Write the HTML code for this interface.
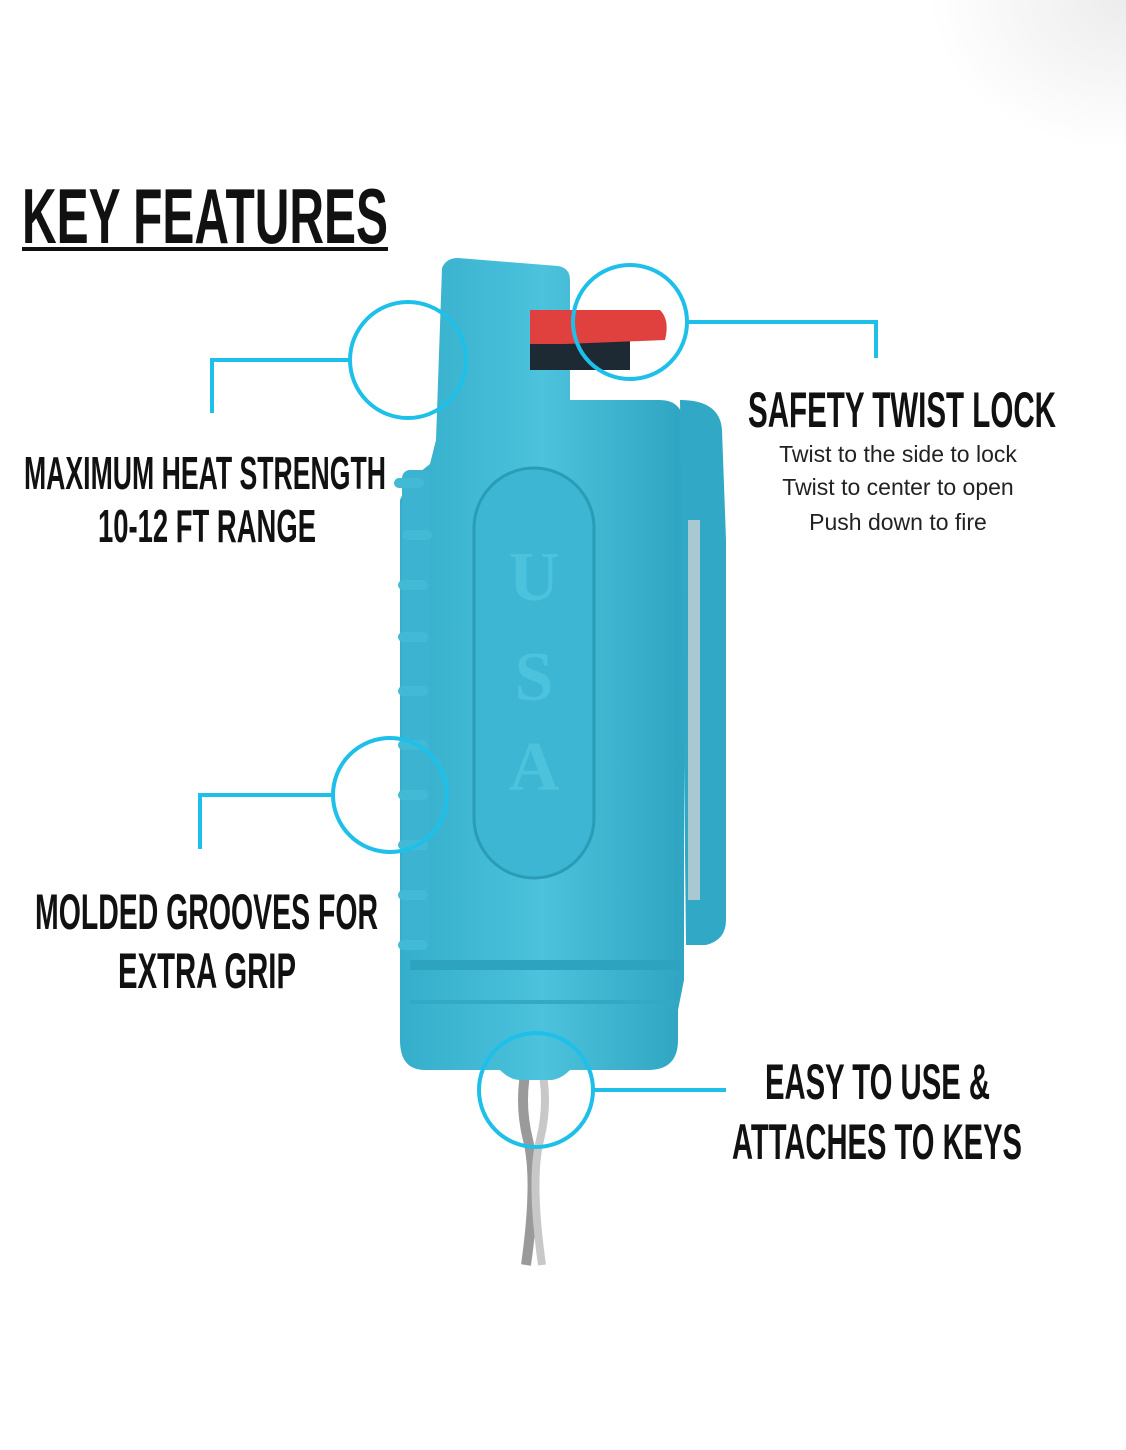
<!DOCTYPE html>
<html><head><meta charset="utf-8"><style>
html,body{margin:0;padding:0;background:#fff;width:1126px;height:1450px;overflow:hidden}
svg{display:block}
.h{font-family:"Liberation Sans Narrow","Liberation Sans",sans-serif;font-weight:bold;fill:#111}
.s{font-family:"Liberation Sans",sans-serif;font-size:23px;fill:#222}
</style></head><body>
<svg width="1126" height="1450" viewBox="0 0 1126 1450" xmlns="http://www.w3.org/2000/svg">
<defs>
<linearGradient id="bg" x1="0" y1="0" x2="1" y2="0">
<stop offset="0" stop-color="#34aecb"/><stop offset="0.5" stop-color="#4cc2dc"/><stop offset="1" stop-color="#2fa5c2"/>
</linearGradient>
<radialGradient id="corner" cx="1" cy="0" r="0.6"><stop offset="0" stop-color="#ececec"/><stop offset="1" stop-color="#fff"/></radialGradient>
</defs>
<rect width="1126" height="1450" fill="#fff"/>
<rect x="800" y="0" width="326" height="250" fill="url(#corner)"/>

<text class="h" x="22" y="243" font-size="78" textLength="366" lengthAdjust="spacingAndGlyphs">KEY FEATURES</text>
<rect x="22" y="247" width="366" height="4" fill="#111"/>

<path d="M528 1060 q-10 40 0 80 q10 40 -2 125" stroke="#9a9a9a" stroke-width="10" fill="none"/>
<path d="M540 1060 q10 40 0 80 q-10 40 2 125" stroke="#c8c8c8" stroke-width="8" fill="none"/>

<path d="M442,268 Q446,258 458,258 L558,266 Q570,268 570,280 L570,400 L660,400 Q680,400 684,420 L684,980 L678,1010 L678,1040 Q678,1070 648,1070 L570,1070 Q560,1080 550,1080 L520,1080 Q510,1080 500,1070 L425,1070 Q400,1070 400,1040 L400,500 L408,482 L420,472 L430,464 L436,440 Z" fill="url(#bg)"/>
<rect x="402" y="470" width="28" height="480" rx="8" fill="#3cb4d1"/>
<path d="M680 400 q40 0 42 30 l4 110 l0 380 q0 20 -20 25 l-20 0 z" fill="#31a9c6"/>
<rect x="688" y="520" width="12" height="380" fill="#a8c9d2"/>
<rect x="474" y="468" width="120" height="410" rx="60" fill="#3db6d3" stroke="#2a9cb8" stroke-width="3"/>
<text x="534" y="600" font-family="Liberation Serif,serif" font-size="70" font-weight="bold" fill="#4cc2dd" text-anchor="middle">U</text>
<text x="534" y="700" font-family="Liberation Serif,serif" font-size="70" font-weight="bold" fill="#4cc2dd" text-anchor="middle">S</text>
<text x="534" y="790" font-family="Liberation Serif,serif" font-size="70" font-weight="bold" fill="#4cc2dd" text-anchor="middle">A</text>
<g fill="#42bad6">
<rect x="394" y="478" width="30" height="10" rx="5"/><rect x="402" y="530" width="30" height="10" rx="5"/>
<rect x="398" y="580" width="30" height="10" rx="5"/><rect x="398" y="632" width="30" height="10" rx="5"/>
<rect x="398" y="686" width="30" height="10" rx="5"/><rect x="398" y="740" width="30" height="10" rx="5"/>
<rect x="398" y="790" width="30" height="10" rx="5"/><rect x="398" y="840" width="30" height="10" rx="5"/>
<rect x="398" y="890" width="30" height="10" rx="5"/><rect x="398" y="940" width="30" height="10" rx="5"/>
</g>
<rect x="410" y="960" width="270" height="10" fill="#2ea3bf"/>
<rect x="410" y="1000" width="268" height="4" fill="#33a9c5"/>
<rect x="530" y="330" width="100" height="40" fill="#1d2a33"/>
<path d="M530 310 l130 0 q10 10 5 30 l-100 4 l-35 0 z" fill="#e0403e"/>

<g stroke="#1ec0ea" stroke-width="4" fill="none">
<circle cx="408" cy="360" r="58"/>
<polyline points="350,360 212,360 212,413"/>
<circle cx="630" cy="322" r="57"/>
<polyline points="688,322 876,322 876,358"/>
<circle cx="390" cy="795" r="57"/>
<polyline points="333,795 200,795 200,849"/>
<circle cx="536" cy="1090" r="57"/>
<polyline points="593,1090 726,1090"/>
</g>

<text class="h" x="24" y="489" font-size="46" textLength="362" lengthAdjust="spacingAndGlyphs">MAXIMUM HEAT STRENGTH</text>
<text class="h" x="98" y="542" font-size="46" textLength="218" lengthAdjust="spacingAndGlyphs">10-12 FT RANGE</text>
<text class="h" x="748" y="427" font-size="50" textLength="308" lengthAdjust="spacingAndGlyphs">SAFETY TWIST LOCK</text>
<text class="s" x="898" y="462" text-anchor="middle">Twist to the side to lock</text>
<text class="s" x="898" y="495" text-anchor="middle">Twist to center to open</text>
<text class="s" x="898" y="530" text-anchor="middle">Push down to fire</text>
<text class="h" x="35" y="929" font-size="50" textLength="343" lengthAdjust="spacingAndGlyphs">MOLDED GROOVES FOR</text>
<text class="h" x="118" y="988" font-size="50" textLength="178" lengthAdjust="spacingAndGlyphs">EXTRA GRIP</text>
<text class="h" x="765" y="1099" font-size="50" textLength="225" lengthAdjust="spacingAndGlyphs">EASY TO USE &amp;</text>
<text class="h" x="732" y="1159" font-size="50" textLength="290" lengthAdjust="spacingAndGlyphs">ATTACHES TO KEYS</text>
</svg>
</body></html>
